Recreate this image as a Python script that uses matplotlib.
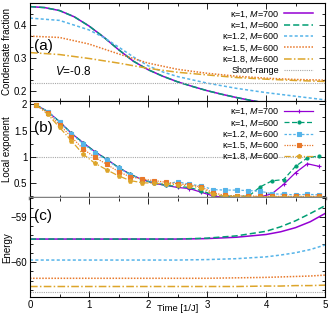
import numpy as np
import matplotlib
matplotlib.use("Agg")
import matplotlib.pyplot as plt
from matplotlib.ticker import MultipleLocator

# ---------------- data ----------------
labels = ["κ=1, $M$=700", "κ=1, $M$=600", "κ=1.2, $M$=600", "κ=1.5, $M$=600", "κ=1.8, $M$=600"]
short_label = "Short-range"

# (a) condensate fraction
t_a = [0, 0.25, 0.5, 0.75, 1.0, 1.25, 1.5, 1.75, 2.0, 2.25, 2.5, 2.75, 3.0, 3.25, 3.5, 3.75, 4.0]
cf_k1 = [0.456, 0.453, 0.444, 0.425, 0.397, 0.363, 0.325, 0.290, 0.264, 0.244, 0.227, 0.213, 0.200, 0.189, 0.179, 0.170, 0.162]
t_b2 = [0, 0.5, 1.0, 1.25, 1.5, 1.75, 2.0, 2.25, 2.5, 3.0, 3.5, 4.0, 4.5, 5.0]
cf_k12 = [0.421, 0.414, 0.385, 0.362, 0.333, 0.303, 0.276, 0.257, 0.243, 0.223, 0.207, 0.194, 0.183, 0.172]
t_c = [0, 0.5, 1.0, 1.5, 2.0, 2.5, 3.0, 3.5, 4.0, 4.5, 5.0]
cf_k15 = [0.366, 0.362, 0.342, 0.312, 0.284, 0.265, 0.253, 0.244, 0.238, 0.234, 0.232]
cf_k18 = [0.316, 0.310, 0.298, 0.284, 0.268, 0.256, 0.248, 0.240, 0.235, 0.231, 0.228]
cf_short = 0.224

# (b) local exponent
t_le = [0.1, 0.3, 0.5, 0.7, 0.9, 1.1, 1.3, 1.5, 1.7, 1.9, 2.1, 2.3, 2.5,
        2.7, 2.9, 3.1, 3.3, 3.5, 3.7, 3.9, 4.1, 4.3, 4.5, 4.7, 4.9]
le_k1_700 = [1.99, 1.86, 1.67, 1.45, 1.27, 1.10, 0.955, 0.80, 0.67, 0.57, 0.50, 0.46, 0.42,
             0.40, 0.33, 0.26, 0.23, 0.22, 0.22, 0.24, 0.30, 0.48, 0.70, 0.87, 0.82]
le_k1_600 = [1.99, 1.86, 1.67, 1.45, 1.27, 1.10, 0.955, 0.80, 0.67, 0.57, 0.50, 0.46, 0.44,
             0.42, 0.36, 0.28, 0.25, 0.26, 0.25, 0.43, 0.545, 0.57, 0.82, 0.98, 1.02]
le_k12 = [1.99, 1.86, 1.66, 1.44, 1.25, 1.08, 0.94, 0.79, 0.66, 0.57, 0.52, 0.48, 0.53,
          0.48, 0.45, 0.38, 0.37, 0.37, 0.36, 0.35, 0.30, 0.29, 0.28, 0.29, 0.28]
le_k15 = [1.99, 1.84, 1.61, 1.38, 1.15, 0.99, 0.86, 0.72, 0.62, 0.58, 0.55, 0.52, 0.49,
          0.47, 0.43, 0.32, 0.27, 0.26, 0.26, 0.25, 0.25, 0.25, 0.25, 0.25, 0.25]
le_k18 = [1.99, 1.81, 1.56, 1.31, 1.05, 0.88, 0.755, 0.64, 0.55, 0.51, 0.50, 0.49, 0.47,
          0.45, 0.41, 0.29, 0.25, 0.25, 0.24, 0.24, 0.24, 0.24, 0.24, 0.24, 0.24]

# (c) energy
t_e = [0, 1, 2, 2.5, 3, 3.5, 4, 4.25, 4.5, 4.75, 5]
en_k1_700 = [-59.49, -59.49, -59.49, -59.49, -59.48, -59.45, -59.39, -59.33, -59.24, -59.11, -58.93]
en_k1_600 = [-59.49, -59.49, -59.49, -59.49, -59.47, -59.42, -59.32, -59.22, -59.09, -58.93, -58.76]
en_k12 = [-59.95, -59.95, -59.95, -59.95, -59.94, -59.92, -59.88, -59.84, -59.79, -59.72, -59.62]
en_k15 = [-60.35, -60.35, -60.35, -60.35, -60.35, -60.34, -60.33, -60.32, -60.31, -60.30, -60.28]
en_k18 = [-60.53, -60.53, -60.53, -60.53, -60.53, -60.53, -60.52, -60.52, -60.51, -60.51, -60.50]
en_short = -60.64

# ---------------- styles ----------------
colors = ["#9400D3", "#009E73", "#56B4E9", "#E8782A", "#DDA52A"]
gray = "#A8A8A8"
dashes = [(None), (4, 2), (2, 1.5), (1, 1), (5, 1.5, 1, 1.5)]
markers = ["+", "o", "s", "s", "p"]
msizes = [3.5, 2.2, 3.0, 3.0, 3.0]

plt.rcParams["font.family"] = ["Liberation Sans", "DejaVu Sans"]
plt.rcParams["font.size"] = 7
plt.rcParams["mathtext.fontset"] = "custom"
plt.rcParams["mathtext.rm"] = "Liberation Sans"
plt.rcParams["mathtext.it"] = "Liberation Sans:italic"

fig = plt.figure(figsize=(3.31, 3.14), dpi=100)
L, W = 30 / 331, 295 / 331
ax_a = fig.add_axes([L, 1 - 100.5 / 314, W, 97.5 / 314])
ax_b = fig.add_axes([L, 1 - 198 / 314, W, 97.5 / 314])
ax_c = fig.add_axes([L, 1 - 297 / 314, W, 99 / 314])


def style_line(line, i):
    if dashes[i] is not None:
        line.set_dashes(dashes[i])


leg_kw = dict(loc="upper right", frameon=False, markerfirst=False, handlelength=3.2,
              fontsize=6.5, labelspacing=0.1, borderaxespad=0.3, handletextpad=0.6,
              bbox_to_anchor=(0.975, 0.98), borderpad=0.2)

# (a)
a_series = [(t_a, cf_k1), (t_a, cf_k1), (t_b2, cf_k12), (t_c, cf_k15), (t_c, cf_k18)]
for i, (tt, yy) in enumerate(a_series):
    ln, = ax_a.plot(tt, yy, color=colors[i], lw=1.1, label=labels[i])
    style_line(ln, i)
ln, = ax_a.plot([0, 5], [cf_short, cf_short], color=gray, lw=0.8, label=short_label)
ln.set_dashes((1, 1))
ax_a.set_ylim(0.17, 0.467)
ax_a.yaxis.set_minor_locator(MultipleLocator(0.1 / 3))
ax_a.set_yticks([0.2, 0.3, 0.4])
ax_a.set_yticklabels(["0.2", "0.3", "0.4"])
ax_a.set_ylabel("Condensate fraction")
ax_a.text(0.012, 0.56, "(a)", transform=ax_a.transAxes, fontsize=11, va="center")
ax_a.text(0.085, 0.30, "$V$=-0.8", transform=ax_a.transAxes, fontsize=8.5, va="center")
ax_a.legend(**leg_kw)

# (b)
b_series = [le_k1_700, le_k1_600, le_k12, le_k15, le_k18]
for i, yy in enumerate(b_series):
    ln, = ax_b.plot(t_le, yy, color=colors[i], lw=0.9, marker=markers[i], ms=msizes[i],
                    mew=0.8, label=labels[i])
    style_line(ln, i)
ln, = ax_b.plot([0, 5], [1, 1], color=gray, lw=0.8, zorder=0)
ln.set_dashes((1, 1))
ax_b.set_ylim(0.22, 2.07)
ax_b.yaxis.set_minor_locator(MultipleLocator(0.25))
ax_b.set_yticks([0.5, 1, 1.5, 2])
ax_b.set_yticklabels(["0.5", "1", "1.5", "2"])
ax_b.set_ylabel("Local exponent")
ax_b.text(0.012, 0.72, "(b)", transform=ax_b.transAxes, fontsize=11, va="center")
ax_b.legend(numpoints=1, **leg_kw)
ax_b.spines["bottom"].set_color("#808080")
ax_b.spines["bottom"].set_linewidth(2.5)

# (c)
c_series = [en_k1_700, en_k1_600, en_k12, en_k15, en_k18]
for i, yy in enumerate(c_series):
    ln, = ax_c.plot(t_e, yy, color=colors[i], lw=1.1)
    style_line(ln, i)
ln, = ax_c.plot([0, 5], [en_short, en_short], color=gray, lw=0.8)
ln.set_dashes((1, 1))
ax_c.set_ylim(-60.76, -58.59)
ax_c.yaxis.set_major_locator(MultipleLocator(1))
ax_c.yaxis.set_minor_locator(MultipleLocator(0.2))
ax_c.set_ylabel("Energy")
ax_c.text(0.012, 0.82, "(c)", transform=ax_c.transAxes, fontsize=11, va="center")
ax_c.spines["top"].set_visible(False)
ax_c.set_xlabel("Time [1/J]", fontsize=6.8)
ax_c.xaxis.set_label_coords(0.5, -0.075)

for ax in (ax_a, ax_b, ax_c):
    ax.set_xlim(0, 5)
    ax.xaxis.set_major_locator(MultipleLocator(1))
    ax.xaxis.set_minor_locator(MultipleLocator(0.5))
    ax.tick_params(which="both", direction="in", top=True, right=True, labelsize=7, pad=2)
    ax.tick_params(which="major", length=4, width=0.6)
    ax.tick_params(which="minor", length=2, width=0.6)
    ax.yaxis.set_label_coords(-0.06, 0.5)
    ax.yaxis.label.set_fontsize(7)
    for s in ("left", "right", "top"):
        ax.spines[s].set_linewidth(0.8)
for ax in (ax_a, ax_b):
    ax.tick_params(labelbottom=False)
ax_a.spines["bottom"].set_linewidth(0.8)
ax_c.spines["bottom"].set_linewidth(0.8)

fig.savefig("out.png", dpi=100)
